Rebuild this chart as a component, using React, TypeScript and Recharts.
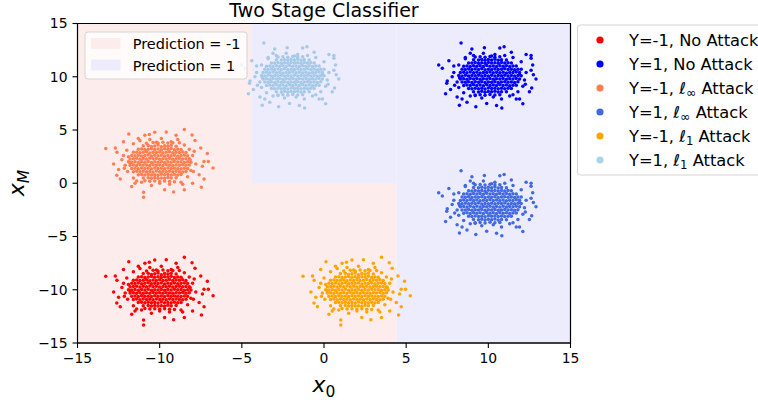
import React from 'react';
import { ScatterChart, Scatter, XAxis, YAxis, ReferenceArea } from 'recharts';

// ---------- data ----------
const xTicks = [-15, -10, -5, 0, 5, 10, 15];
const yTicks = [-15, -10, -5, 0, 5, 10, 15];

// decision regions (prediction -1 / +1)
const regionNeg = [{ x1: -15, x2: 4.4, y1: -15, y2: 15 }];
const regionPos = [
  { x1: -4.4, x2: 4.4, y1: 0, y2: 15 },
  { x1: 4.4, x2: 15, y1: -15, y2: 15 },
];

// Y = -1, no attack (dense core + scattered edge)
const negNoAttack: [number, number][] = [
  [-10.4,-8.17],[-10.1,-8.23],[-9.8,-8.15],[-9.5,-8.22],[-10.8,-8.25],[-9.2,-8.2],
  [-11.0,-8.47],[-10.7,-8.45],[-10.5,-8.56],[-10.3,-8.5],[-10.1,-8.42],[-9.9,-8.58],[-9.7,-8.47],[-9.5,-8.53],[-9.3,-8.44],[-9.0,-8.52],
  [-11.3,-8.8],[-11.1,-8.78],[-10.9,-8.84],[-10.7,-8.8],[-10.5,-8.75],[-10.3,-8.83],[-10.1,-8.79],[-9.9,-8.86],[-9.7,-8.77],[-9.5,-8.81],[-9.3,-8.74],[-9.1,-8.85],[-8.9,-8.8],[-8.7,-8.83],
  [-11.6,-9.1],[-11.4,-9.08],[-11.2,-9.13],[-11.0,-9.1],[-10.8,-9.05],[-10.6,-9.15],[-10.4,-9.09],[-10.2,-9.12],[-10.0,-9.06],[-9.8,-9.14],[-9.6,-9.1],[-9.4,-9.04],[-9.2,-9.13],[-9.0,-9.08],[-8.8,-9.11],[-8.6,-9.07],[-8.4,-9.12],
  [-11.7,-9.39],[-11.5,-9.42],[-11.3,-9.37],[-11.1,-9.44],[-10.9,-9.4],[-10.7,-9.35],[-10.5,-9.43],[-10.3,-9.38],[-10.1,-9.41],[-9.9,-9.36],[-9.7,-9.45],[-9.5,-9.39],[-9.3,-9.42],[-9.1,-9.37],[-8.9,-9.44],[-8.7,-9.4],[-8.5,-9.36],[-8.3,-9.41],
  [-11.8,-9.72],[-11.6,-9.7],[-11.4,-9.66],[-11.2,-9.74],[-11.0,-9.68],[-10.8,-9.73],[-10.6,-9.65],[-10.4,-9.71],[-10.2,-9.67],[-10.0,-9.75],[-9.8,-9.69],[-9.6,-9.72],[-9.4,-9.66],[-9.2,-9.74],[-9.0,-9.7],[-8.8,-9.67],[-8.6,-9.73],[-8.4,-9.69],[-8.2,-9.71],
  [-11.9,-9.99],[-11.7,-10.02],[-11.5,-9.97],[-11.3,-10.04],[-11.1,-9.98],[-10.9,-10.03],[-10.7,-9.96],[-10.5,-10.05],[-10.3,-9.99],[-10.1,-10.02],[-9.9,-9.97],[-9.7,-10.04],[-9.5,-9.98],[-9.3,-10.03],[-9.1,-9.96],[-8.9,-10.01],[-8.7,-9.98],[-8.5,-10.04],[-8.3,-9.99],[-8.1,-10.03],
  [-11.8,-10.3],[-11.6,-10.28],[-11.4,-10.33],[-11.2,-10.27],[-11.0,-10.32],[-10.8,-10.29],[-10.6,-10.34],[-10.4,-10.26],[-10.2,-10.31],[-10.0,-10.28],[-9.8,-10.33],[-9.6,-10.27],[-9.4,-10.3],[-9.2,-10.34],[-9.0,-10.28],[-8.8,-10.31],[-8.6,-10.26],[-8.4,-10.32],[-8.2,-10.29],
  [-11.7,-10.61],[-11.5,-10.58],[-11.3,-10.63],[-11.1,-10.57],[-10.9,-10.62],[-10.7,-10.6],[-10.5,-10.64],[-10.3,-10.56],[-10.1,-10.61],[-9.9,-10.59],[-9.7,-10.63],[-9.5,-10.57],[-9.3,-10.62],[-9.1,-10.58],[-8.9,-10.61],[-8.7,-10.64],[-8.5,-10.59],[-8.3,-10.62],
  [-11.6,-10.91],[-11.4,-10.88],[-11.2,-10.93],[-11.0,-10.87],[-10.8,-10.92],[-10.6,-10.9],[-10.4,-10.94],[-10.2,-10.86],[-10.0,-10.91],[-9.8,-10.89],[-9.6,-10.93],[-9.4,-10.87],[-9.2,-10.92],[-9.0,-10.88],[-8.8,-10.91],[-8.6,-10.94],[-8.4,-10.9],
  [-11.3,-11.2],[-11.1,-11.18],[-10.9,-11.23],[-10.7,-11.17],[-10.5,-11.22],[-10.3,-11.2],[-10.1,-11.24],[-9.9,-11.16],[-9.7,-11.21],[-9.5,-11.19],[-9.3,-11.23],[-9.1,-11.17],[-8.9,-11.22],[-8.7,-11.19],
  [-11.0,-11.5],[-10.7,-11.48],[-10.5,-11.53],[-10.3,-11.47],[-10.1,-11.52],[-9.9,-11.5],[-9.7,-11.54],[-9.5,-11.46],[-9.3,-11.51],[-9.0,-11.49],
  [-10.6,-11.81],[-10.3,-11.78],[-10.0,-11.84],[-9.7,-11.79],[-9.4,-11.83],[-10.9,-11.76],
  [-13.28,-8.74],[-8.5,-6.95],[-11.88,-7.37],[-9.6,-7.18],[-6.75,-10.56],[-7.04,-9.96],[-7.3,-9.96],[-10.98,-13.31],[-10.98,-12.84],[-12.61,-11.24],[-7.46,-12.37],[-9.15,-12.81],[-7.85,-7.99],[-8.03,-7.46],[-10.63,-7.42],
  [-11.9,-9.5],[-12.1,-10.3],[-11.95,-10.9],[-12.3,-9.8],[-12.0,-8.9],[-11.6,-8.3],[-11.2,-8.0],[-10.6,-7.9],[-9.9,-7.8],[-9.3,-8.1],[-8.8,-8.2],[-8.2,-8.8],[-8.0,-9.4],[-7.8,-10.2],[-8.1,-10.8],[-8.3,-11.4],[-8.7,-11.9],[-9.4,-12.1],[-10.0,-12.0],[-10.5,-12.2],[-11.1,-11.9],[-11.6,-11.5],[-12.4,-11.6],[-12.6,-9.1],[-7.5,-8.7],[-7.6,-11.2],[-9.0,-7.5],[-10.9,-7.5],[-9.7,-12.6],[-11.7,-12.3],[-8.0,-12.0],[-12.8,-10.2],[-7.1,-9.2],[-10.3,-7.2],[-8.5,-12.6],[-12.2,-8.1],[-9.1,-11.85],[-10.2,-8.15],[-11.8,-10.1],[-8.15,-9.8],[-11.4,-11.8],[-8.5,-8.4],[-12.5,-10.7],[-7.4,-10.4],
  [-12.2,-9.4],[-12.15,-10.6],[-7.9,-9.0],[-7.95,-10.9],[-11.3,-7.8],[-8.9,-7.9],[-11.5,-12.0],[-8.6,-12.1],[-12.7,-8.7],[-7.3,-11.6],
];

// Y = 1, no attack
const posNoAttack: [number, number][] = [
  [9.5,11.88],[9.8,11.84],[10.1,11.9],[10.4,11.83],[10.7,11.87],[9.2,11.85],
  [9.1,11.6],[9.4,11.57],[9.6,11.63],[9.8,11.55],[10.0,11.62],[10.2,11.58],[10.4,11.64],[10.6,11.56],[10.8,11.6],[11.1,11.57],
  [8.8,11.3],[9.0,11.28],[9.2,11.33],[9.4,11.27],[9.6,11.31],[9.8,11.26],[10.0,11.34],[10.2,11.29],[10.4,11.32],[10.6,11.27],[10.8,11.33],[11.0,11.28],[11.2,11.31],[11.4,11.29],
  [8.5,10.99],[8.7,11.02],[8.9,10.97],[9.1,11.04],[9.3,10.98],[9.5,11.03],[9.7,10.96],[9.9,11.05],[10.1,10.99],[10.3,11.02],[10.5,10.97],[10.7,11.04],[10.9,10.98],[11.1,11.03],[11.3,10.96],[11.5,11.01],[11.7,11.0],
  [8.4,10.71],[8.6,10.68],[8.8,10.73],[9.0,10.67],[9.2,10.72],[9.4,10.69],[9.6,10.74],[9.8,10.66],[10.0,10.71],[10.2,10.68],[10.4,10.73],[10.6,10.67],[10.8,10.7],[11.0,10.74],[11.2,10.68],[11.4,10.71],[11.6,10.66],[11.8,10.7],
  [8.3,10.39],[8.5,10.42],[8.7,10.37],[8.9,10.44],[9.1,10.38],[9.3,10.43],[9.5,10.36],[9.7,10.41],[9.9,10.39],[10.1,10.44],[10.3,10.37],[10.5,10.42],[10.7,10.38],[10.9,10.43],[11.1,10.36],[11.3,10.41],[11.5,10.39],[11.7,10.44],[11.9,10.4],
  [8.2,10.11],[8.4,10.08],[8.6,10.13],[8.8,10.07],[9.0,10.12],[9.2,10.09],[9.4,10.14],[9.6,10.06],[9.8,10.11],[10.0,10.08],[10.2,10.13],[10.4,10.07],[10.6,10.12],[10.8,10.09],[11.0,10.14],[11.2,10.06],[11.4,10.11],[11.6,10.08],[11.8,10.12],[12.0,10.09],
  [8.3,9.8],[8.5,9.82],[8.7,9.77],[8.9,9.84],[9.1,9.78],[9.3,9.83],[9.5,9.76],[9.7,9.81],[9.9,9.79],[10.1,9.84],[10.3,9.77],[10.5,9.82],[10.7,9.78],[10.9,9.83],[11.1,9.76],[11.3,9.81],[11.5,9.79],[11.7,9.84],[11.9,9.8],
  [8.4,9.5],[8.6,9.48],[8.8,9.53],[9.0,9.47],[9.2,9.52],[9.4,9.49],[9.6,9.54],[9.8,9.46],[10.0,9.51],[10.2,9.48],[10.4,9.53],[10.6,9.47],[10.8,9.5],[11.0,9.54],[11.2,9.48],[11.4,9.51],[11.6,9.46],[11.8,9.52],
  [8.5,9.19],[8.7,9.22],[8.9,9.17],[9.1,9.24],[9.3,9.18],[9.5,9.23],[9.7,9.16],[9.9,9.25],[10.1,9.19],[10.3,9.22],[10.5,9.17],[10.7,9.24],[10.9,9.18],[11.1,9.23],[11.3,9.16],[11.5,9.21],[11.7,9.2],
  [8.8,8.9],[9.0,8.88],[9.2,8.93],[9.4,8.87],[9.6,8.91],[9.8,8.86],[10.0,8.94],[10.2,8.89],[10.4,8.92],[10.6,8.87],[10.8,8.93],[11.0,8.88],[11.2,8.91],[11.4,8.89],
  [9.1,8.6],[9.4,8.57],[9.6,8.63],[9.8,8.55],[10.0,8.62],[10.2,8.58],[10.4,8.64],[10.6,8.56],[10.8,8.6],[11.1,8.58],
  [9.5,8.31],[9.8,8.27],[10.1,8.33],[10.4,8.28],[10.7,8.32],[9.2,8.29],
  [8.34,13.17],[6.98,11.1],[12.64,8.94],[12.74,10.19],[8.24,7.32],[10.82,7.07],[10.96,12.82],[12.6,11.73],[12.1,7.47],[9.24,7.19],[9.76,12.73],[7.47,9.38],
  [12.0,10.7],[12.2,9.7],[12.1,9.1],[7.9,10.4],[8.2,11.1],[8.6,11.7],[9.1,12.0],[9.7,12.2],[10.4,12.1],[11.0,12.0],[11.5,11.8],[12.0,11.4],[8.1,9.5],[7.8,10.0],[8.2,9.0],[8.5,8.5],[8.9,8.2],[9.6,8.0],[10.3,8.1],[10.8,7.9],[11.3,8.2],[11.8,8.6],[12.5,8.6],[12.7,11.1],[7.6,11.5],[7.7,8.8],[9.0,12.6],[10.7,12.7],[9.9,7.5],[11.9,7.9],[8.1,8.1],[12.9,9.8],[7.2,10.8],[10.5,7.3],[8.7,7.6],[12.3,12.1],[9.2,8.25],[10.2,11.95],[11.9,10.2],[8.25,9.9],[11.5,8.3],[8.6,11.8],[12.6,10.6],[7.5,9.6],
  [12.3,10.4],[12.25,9.3],[7.95,9.2],[7.9,11.0],[11.4,12.3],[8.9,12.2],[11.7,7.9],[8.4,7.9],[12.6,12.0],[7.4,8.4],
];

// attack perturbations (shift of the whole cluster, in data units)
const linfShiftNeg: [number, number] = [0, 12];
const l1ShiftNeg: [number, number] = [12, 0];
const linfShiftPos: [number, number] = [0, -12];
const l1ShiftPos: [number, number] = [-12, 0];

const seriesLabels = ['Y=-1', 'Y=1', 'Y=-1', 'Y=1', 'Y=-1', 'Y=1'];
const seriesAttack = ['none', 'none', 'inf', 'inf', '1', '1'];
const seriesColors = ['#ff0000', '#0000ff', '#ff7f50', '#4169e1', '#ffa500', '#a5c9e7'];
const legendColors = ['#ff0000', '#0000ff', '#ff7f50', '#4169e1', '#ffa500', '#aad4ea'];

const toPts = (arr: [number, number][], s: [number, number]) =>
  arr.map(([x, y]) => ({ x: x + s[0], y: y + s[1] }));

const seriesData = [
  toPts(negNoAttack, [0, 0]),
  toPts(posNoAttack, [0, 0]),
  toPts(negNoAttack, linfShiftNeg),
  toPts(posNoAttack, linfShiftPos),
  toPts(negNoAttack, l1ShiftNeg),
  toPts(posNoAttack, l1ShiftPos),
];

const PINK = '#fdecec';
const LAVENDER = '#ececfc';
const FONT = 'DejaVu Sans, Verdana, sans-serif';

const fmt = (v: number) => (v < 0 ? '\u2212' + Math.abs(v) : String(v));

function LegendText({ x, y, label, attack }: { x: number; y: number; label: string; attack: string }) {
  const fs = 16.3;
  if (attack === 'none') {
    return (
      <text x={x} y={y} fontSize={fs} fontFamily={FONT} fill="#000">{`${label}, No Attack`}</text>
    );
  }
  return (
    <text x={x} y={y} fontSize={fs} fontFamily={FONT} fill="#000">
      {`${label}, `}
      <tspan fontStyle="italic">ℓ</tspan>
      <tspan fontSize={attack === 'inf' ? 12.5 : 11.7} dy={3.5}>{attack === 'inf' ? '∞' : '1'}</tspan>
      <tspan dy={-3.5}>{' Attack'}</tspan>
    </text>
  );
}

export default function App() {
  return (
    <div style={{ position: 'absolute', left: 0, top: 0, width: 758, height: 404, background: '#fff' }}>
      <ScatterChart width={758} height={404} margin={{ top: 23.5, right: 187.5, bottom: 31, left: 37.5 }}>
        <XAxis
          type="number"
          dataKey="x"
          domain={[-15, 15]}
          ticks={xTicks}
          interval={0}
          tickFormatter={fmt}
          height={30}
          tickSize={5}
          tickMargin={5}
          axisLine={{ stroke: '#000' }}
          tickLine={{ stroke: '#000', strokeWidth: 1.1 }}
          tick={{ fill: '#000', fontSize: 13.9, fontFamily: FONT }}
          allowDataOverflow
        />
        <YAxis
          type="number"
          dataKey="y"
          domain={[-15, 15]}
          ticks={yTicks}
          interval={0}
          tickFormatter={fmt}
          width={40}
          tickSize={5}
          tickMargin={5}
          axisLine={{ stroke: '#000' }}
          tickLine={{ stroke: '#000', strokeWidth: 1.1 }}
          tick={{ fill: '#000', fontSize: 13.9, fontFamily: FONT }}
          allowDataOverflow
        />
        {regionNeg.map((r, i) => (
          <ReferenceArea key={'n' + i} x1={r.x1} x2={r.x2} y1={r.y1} y2={r.y2} fill={PINK} fillOpacity={1} stroke="none" />
        ))}
        {regionPos.map((r, i) => (
          <ReferenceArea key={'p' + i} x1={r.x1} x2={r.x2} y1={r.y1} y2={r.y2} fill={LAVENDER} fillOpacity={1} stroke="none" />
        ))}
        {seriesData.map((d, i) => (
          <Scatter
            key={i}
            data={d}
            isAnimationActive={false}
            shape={(p: any) => <circle cx={p.cx} cy={p.cy} r={1.75} fill={seriesColors[i]} />}
          />
        ))}
        <ReferenceArea x1={-15} x2={15} y1={-15} y2={15} fill="none" fillOpacity={0} stroke="#000" strokeWidth={1.2} />
      </ScatterChart>

      <svg width={758} height={404} style={{ position: 'absolute', left: 0, top: 0, pointerEvents: 'none' }}>
        <text x={324} y={17} textAnchor="middle" fontSize={19} fontFamily={FONT} fill="#000">Two Stage Classifier</text>

        {/* axis labels */}
        <text x={324} y={392} textAnchor="middle" fontSize={22} fontFamily={FONT} fill="#000">
          <tspan fontStyle="italic">x</tspan>
          <tspan fontSize={15.5} dy={4.5}>0</tspan>
        </text>
        <text transform="translate(24,183) rotate(-90)" textAnchor="middle" fontSize={22} fontFamily={FONT} fill="#000">
          <tspan fontStyle="italic">x</tspan>
          <tspan fontSize={15.5} fontStyle="italic" dy={4.5}>M</tspan>
        </text>

        {/* inner legend */}
        <rect x={85} y={32} width={162} height={47} rx={3} fill="#fff" fillOpacity={0.8} stroke="#d4d4d4" strokeWidth={1} />
        <rect x={91} y={38} width={29.5} height={11} fill={PINK} />
        <rect x={91} y={59.5} width={29.5} height={11} fill={LAVENDER} />
        <text x={132.7} y={49} fontSize={14.5} fontFamily={FONT} fill="#000">Prediction = -1</text>
        <text x={132.7} y={70.5} fontSize={14.5} fontFamily={FONT} fill="#000">Prediction = 1</text>

        {/* outer legend */}
        <rect x={577.5} y={25} width={200} height={150} rx={3} fill="#fff" stroke="#d4d4d4" strokeWidth={1} />
        {seriesLabels.map((lab, i) => (
          <g key={i}>
            <circle cx={600} cy={40 + i * 24} r={3.6} fill={legendColors[i]} />
            <LegendText x={629} y={45.5 + i * 24} label={lab} attack={seriesAttack[i]} />
          </g>
        ))}
      </svg>
    </div>
  );
}
